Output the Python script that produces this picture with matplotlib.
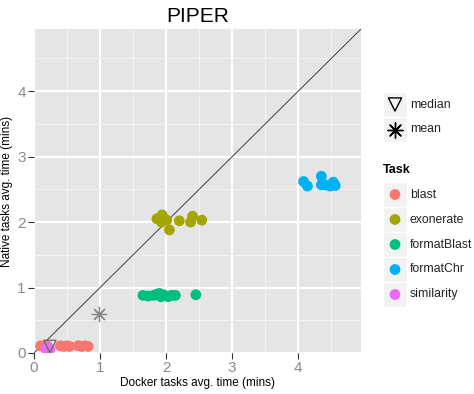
import matplotlib

matplotlib.use("Agg")
import matplotlib.pyplot as plt
from matplotlib.patches import Rectangle
import numpy as np

# data
TASKS = ["blast", "exonerate", "formatBlast", "formatChr", "similarity"]
COLORS = ["#F8766D", "#A3A500", "#00BF7D", "#00B0F6", "#E76BF3"]

blast_x = [0.10, 0.15, 0.20, 0.40, 0.45, 0.50, 0.54, 0.67, 0.72, 0.77, 0.82]
blast_y = [0.11, 0.10, 0.11, 0.11, 0.10, 0.11, 0.10, 0.11, 0.10, 0.11, 0.10]

exonerate_x = [1.86, 1.90, 1.93, 1.94, 1.97, 2.01, 2.05, 2.20, 2.37, 2.40, 2.54]
exonerate_y = [2.05, 2.06, 2.00, 2.11, 2.04, 2.03, 1.88, 2.02, 2.00, 2.09, 2.03]

formatblast_x = [1.65, 1.73, 1.81, 1.86, 1.90, 1.92, 1.96, 2.03, 2.08, 2.14, 2.45]
formatblast_y = [0.88, 0.87, 0.88, 0.90, 0.91, 0.86, 0.89, 0.86, 0.88, 0.88, 0.89]

formatchr_x = [4.08, 4.14, 4.35, 4.35, 4.41, 4.48, 4.53, 4.56]
formatchr_y = [2.62, 2.55, 2.70, 2.57, 2.57, 2.55, 2.61, 2.56]

similarity_x = [0.18, 0.21, 0.24, 0.20]
similarity_y = [0.06, 0.08, 0.06, 0.07]

median_xy = (0.24, 0.10)
mean_xy = (0.99, 0.60)

SERIES_X = [blast_x, exonerate_x, formatblast_x, formatchr_x, similarity_x]
SERIES_Y = [blast_y, exonerate_y, formatblast_y, formatchr_y, similarity_y]

STAT_LABELS = ["median", "mean"]
TICKS = [0, 1, 2, 3, 4]
LIMIT = 4.95

PANEL = "#E5E5E5"
MINOR = "#F2F2F2"
ASTERISK = (8, 2, 0)

plt.rcParams.update({"font.family": ["Liberation Sans", "DejaVu Sans"]})

fig = plt.figure(figsize=(4.74, 3.94), dpi=100)
ax = fig.add_axes([34 / 474, 1 - 353 / 394, 327 / 474, 324 / 394])
ax.set_facecolor(PANEL)
for spine in ax.spines.values():
    spine.set_visible(False)

ax.set_xlim(0, LIMIT)
ax.set_ylim(0, LIMIT)
ax.set_xticks(TICKS)
ax.set_yticks(TICKS)
minor = [t + 0.5 for t in TICKS]
ax.set_xticks(minor, minor=True)
ax.set_yticks(minor, minor=True)
ax.grid(which="major", color="white", linewidth=1.6)
ax.grid(which="minor", color=MINOR, linewidth=0.8)
ax.set_axisbelow(True)
ax.tick_params(which="major", length=4, width=0.8, color="#333333",
               labelsize=11, labelcolor="#8A8A8A", pad=2)
ax.tick_params(which="minor", length=0)

ax.plot([0, LIMIT], [0, LIMIT], color="#404040", linewidth=0.7, zorder=2)

for xs, ys, color in zip(SERIES_X, SERIES_Y, COLORS):
    ax.scatter(xs, ys, s=60, color=color, edgecolor="none", zorder=3)

ax.scatter([median_xy[0]], [median_xy[1]], s=80, marker="v", facecolor="none",
           edgecolor="#666666", linewidth=0.9, zorder=4)
ax.scatter([mean_xy[0]], [mean_xy[1]], s=110, marker=ASTERISK, color="#888888",
           linewidth=0.9, zorder=4)

ax.set_xlabel("Docker tasks avg. time (mins)", fontsize=8.5, labelpad=1)
ax.set_ylabel("Native tasks avg. time (mins)", fontsize=8.5, labelpad=3)
ax.set_title("PIPER", fontsize=15, pad=5)

# legends drawn as ggplot-style key boxes
leg = fig.add_axes([0, 0, 1, 1], facecolor="none")
leg.set_xlim(0, 474)
leg.set_ylim(394, 0)
leg.axis("off")

key_x, key_w, key_h = 383, 24, 25
stat_markers = [dict(marker="v", facecolor="none", edgecolor="black", s=90, linewidth=1.0),
                dict(marker=ASTERISK, color="black", s=120, linewidth=1.0)]
for i, (label, style) in enumerate(zip(STAT_LABELS, stat_markers)):
    top = 92 + i * key_h
    leg.add_patch(Rectangle((key_x, top), key_w, key_h, facecolor="#F2F2F2", edgecolor="white", linewidth=1))
    leg.scatter([key_x + key_w / 2], [top + key_h / 2], **style)
    leg.text(key_x + key_w + 3, top + key_h / 2, label, fontsize=8.8, va="center", ha="left", color="#222222")

leg.text(key_x, 170, "Task", fontsize=9, fontweight="bold", va="center", ha="left")
for i, (label, color) in enumerate(zip(TASKS, COLORS)):
    top = 182 + i * key_h
    leg.add_patch(Rectangle((key_x, top), key_w, key_h, facecolor="#F2F2F2", edgecolor="white", linewidth=1))
    leg.scatter([key_x + key_w / 2], [top + key_h / 2], s=60, color=color, edgecolor="none")
    leg.text(key_x + key_w + 3, top + key_h / 2, label, fontsize=8.8, va="center", ha="left", color="#222222")

fig.savefig("out.png", dpi=100, facecolor="white")
